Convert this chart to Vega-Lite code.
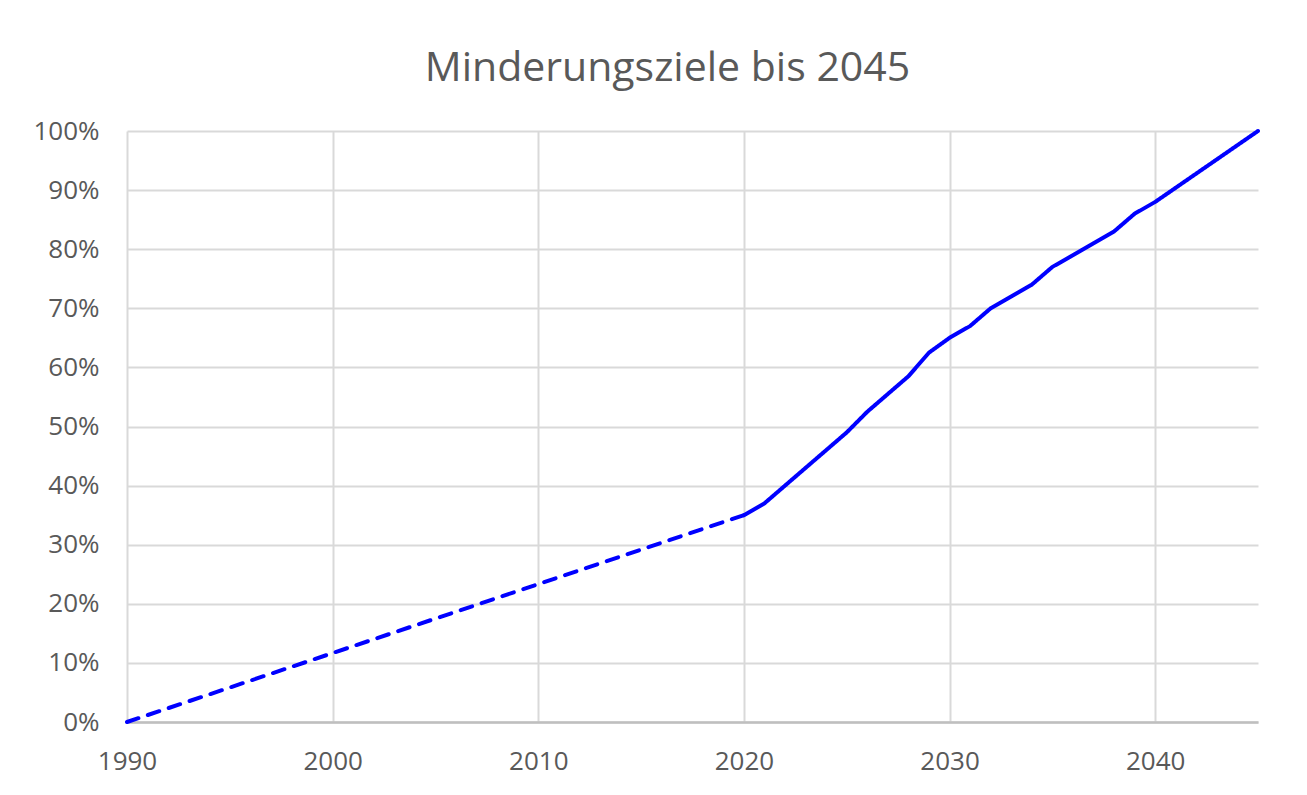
{
  "$schema": "https://vega.github.io/schema/vega-lite/v6.json",
  "width": 1131,
  "height": 591,
  "autosize": {"type": "none"},
  "padding": {"left": 127, "top": 131, "right": 49, "bottom": 73},
  "background": "white",
  "title": {
    "text": "Minderungsziele bis 2045",
    "font": "Open Sans",
    "fontSize": 41,
    "fontWeight": "normal",
    "color": "#595959",
    "anchor": "middle",
    "baseline": "alphabetic",
    "dx": -25,
    "offset": -4
  },
  "data": {
    "values": [
      {"year": 1990, "pct": 0.0, "phase": "Ist"},
      {"year": 2020, "pct": 0.35, "phase": "Ist"},
      {"year": 2020, "pct": 0.35, "phase": "Ziel"},
      {"year": 2021, "pct": 0.37, "phase": "Ziel"},
      {"year": 2022, "pct": 0.40, "phase": "Ziel"},
      {"year": 2023, "pct": 0.43, "phase": "Ziel"},
      {"year": 2024, "pct": 0.46, "phase": "Ziel"},
      {"year": 2025, "pct": 0.49, "phase": "Ziel"},
      {"year": 2026, "pct": 0.525, "phase": "Ziel"},
      {"year": 2027, "pct": 0.555, "phase": "Ziel"},
      {"year": 2028, "pct": 0.585, "phase": "Ziel"},
      {"year": 2029, "pct": 0.625, "phase": "Ziel"},
      {"year": 2030, "pct": 0.65, "phase": "Ziel"},
      {"year": 2031, "pct": 0.67, "phase": "Ziel"},
      {"year": 2032, "pct": 0.70, "phase": "Ziel"},
      {"year": 2033, "pct": 0.72, "phase": "Ziel"},
      {"year": 2034, "pct": 0.74, "phase": "Ziel"},
      {"year": 2035, "pct": 0.77, "phase": "Ziel"},
      {"year": 2036, "pct": 0.79, "phase": "Ziel"},
      {"year": 2037, "pct": 0.81, "phase": "Ziel"},
      {"year": 2038, "pct": 0.83, "phase": "Ziel"},
      {"year": 2039, "pct": 0.86, "phase": "Ziel"},
      {"year": 2040, "pct": 0.88, "phase": "Ziel"},
      {"year": 2041, "pct": 0.904, "phase": "Ziel"},
      {"year": 2042, "pct": 0.928, "phase": "Ziel"},
      {"year": 2043, "pct": 0.952, "phase": "Ziel"},
      {"year": 2044, "pct": 0.976, "phase": "Ziel"},
      {"year": 2045, "pct": 1.0, "phase": "Ziel"}
    ]
  },
  "mark": {"type": "line", "color": "#0000ff", "strokeWidth": 4, "strokeCap": "round", "strokeJoin": "round"},
  "encoding": {
    "x": {
      "field": "year",
      "type": "quantitative",
      "scale": {"domain": [1990, 2045], "nice": false, "zero": false},
      "axis": {
        "title": null,
        "values": [1990, 2000, 2010, 2020, 2030, 2040],
        "format": "d",
        "grid": true,
        "gridColor": "#d9d9d9",
        "gridWidth": 2,
        "domainColor": "#bfbfbf",
        "domainWidth": 2.5,
        "ticks": false,
        "labelFont": "Open Sans",
        "labelFontSize": 26,
        "labelColor": "#595959",
        "labelPadding": 26,
        "labelFlush": false
      }
    },
    "y": {
      "field": "pct",
      "type": "quantitative",
      "scale": {"domain": [0, 1], "nice": false},
      "axis": {
        "title": null,
        "values": [0, 0.1, 0.2, 0.3, 0.4, 0.5, 0.6, 0.7, 0.8, 0.9, 1.0],
        "format": ".0%",
        "grid": true,
        "gridColor": "#d9d9d9",
        "gridWidth": 2,
        "domain": false,
        "ticks": false,
        "labelFont": "Open Sans",
        "labelFontSize": 26,
        "labelColor": "#595959",
        "labelPadding": 28,
        "labelFlush": false
      }
    },
    "strokeDash": {
      "field": "phase",
      "type": "nominal",
      "scale": {"domain": ["Ist", "Ziel"], "range": [[12, 10], [1, 0]]},
      "legend": null
    }
  },
  "config": {"view": {"stroke": null}}
}
